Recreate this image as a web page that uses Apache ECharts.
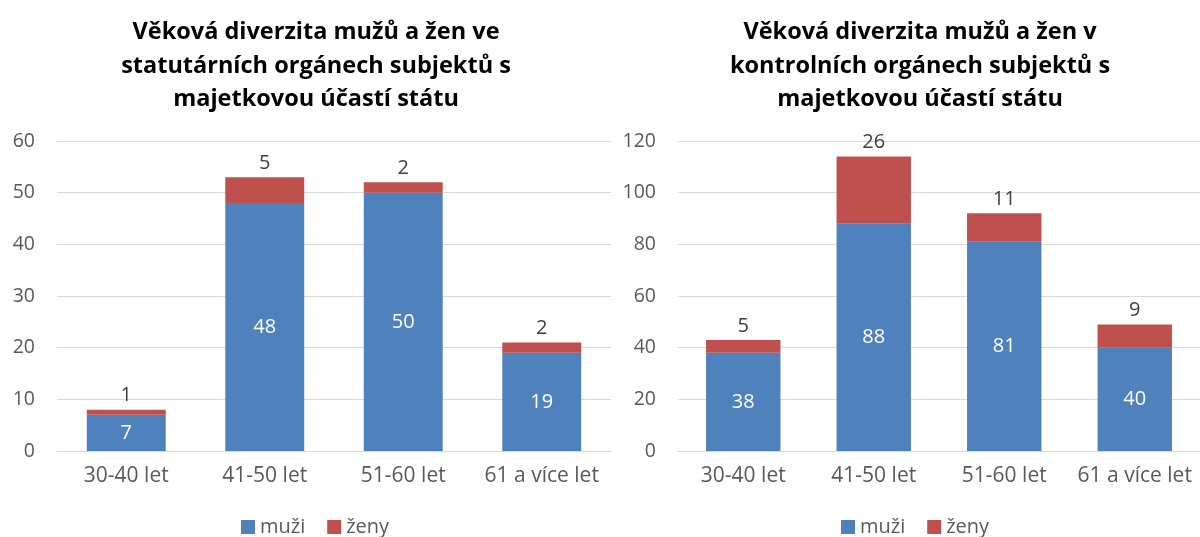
<!DOCTYPE html>
<html><head><meta charset="utf-8">
<script src="https://cdn.jsdelivr.net/npm/echarts@6/dist/echarts.min.js"></script>
<style>html,body{margin:0;padding:0;background:#fff}#c{width:1200px;height:537px}</style>
</head><body><div id="c"></div>
<script>
const categories = ['30-40 let', '41-50 let', '51-60 let', '61 a více let'];
const titleLeft = 'Věková diverzita mužů a žen ve\nstatutárních orgánech subjektů s\nmajetkovou účastí státu';
const titleRight = 'Věková diverzita mužů a žen v\nkontrolních orgánech subjektů s\nmajetkovou účastí státu';
const muziLeft = [7, 48, 50, 19];
const zenyLeft = [1, 5, 2, 2];
const muziRight = [38, 88, 81, 40];
const zenyRight = [5, 26, 11, 9];
const seriesNames = ['muži', 'ženy'];

const FONT = 'Open Sans';
const blue = '#4f81bd', red = '#c0504d';
const chart = echarts.init(document.getElementById('c'));
function xAxis(gi){return {type:'category',gridIndex:gi,data:categories,
  axisLine:{lineStyle:{color:'#d9d9d9',width:1}},axisTick:{show:false},
  axisLabel:{color:'#595959',fontSize:21,fontFamily:FONT,margin:15,interval:0}};}
function yAxis(gi,max,interval){return {type:'value',gridIndex:gi,min:0,max:max,interval:interval,
  axisLine:{show:false},axisTick:{show:false},
  splitLine:{lineStyle:{color:'#d9d9d9',width:1}},
  axisLabel:{color:'#595959',fontSize:19.5,fontFamily:FONT,margin:22}};}
function ser(name,data,gi,color,inside){return {name:name,type:'bar',stack:'s'+gi,xAxisIndex:gi,yAxisIndex:gi,
  data:data,barWidth:'57%',itemStyle:{color:color},
  label:{show:true,position:inside?'inside':'top',color:inside?'#fff':'#404040',fontSize:20,fontFamily:FONT,distance:4}};}
const titleStyle = {fontSize:23.5,fontWeight:'bold',color:'#000',fontFamily:FONT,lineHeight:33.5};
const legendStyle = {color:'#595959',fontSize:20,fontFamily:FONT};
chart.setOption({
  animation:false,
  title:[
    {text:titleLeft,left:311,top:11,textAlign:'center',textStyle:titleStyle},
    {text:titleRight,left:915,top:11,textAlign:'center',textStyle:titleStyle}
  ],
  legend:[
    {data:seriesNames,left:236,top:512,itemWidth:14,itemHeight:14,itemGap:22,icon:'rect',textStyle:legendStyle},
    {data:seriesNames,left:836,top:512,itemWidth:14,itemHeight:14,itemGap:22,icon:'rect',textStyle:legendStyle}
  ],
  grid:[
    {left:57,top:141,width:554,height:310},
    {left:678,top:141,width:531,height:310}
  ],
  xAxis:[xAxis(0),xAxis(1)],
  yAxis:[yAxis(0,60,10),yAxis(1,120,20)],
  series:[
    ser(seriesNames[0],muziLeft,0,blue,true),
    ser(seriesNames[1],zenyLeft,0,red,false),
    ser(seriesNames[0],muziRight,1,blue,true),
    ser(seriesNames[1],zenyRight,1,red,false)
  ]
});
</script></body></html>
